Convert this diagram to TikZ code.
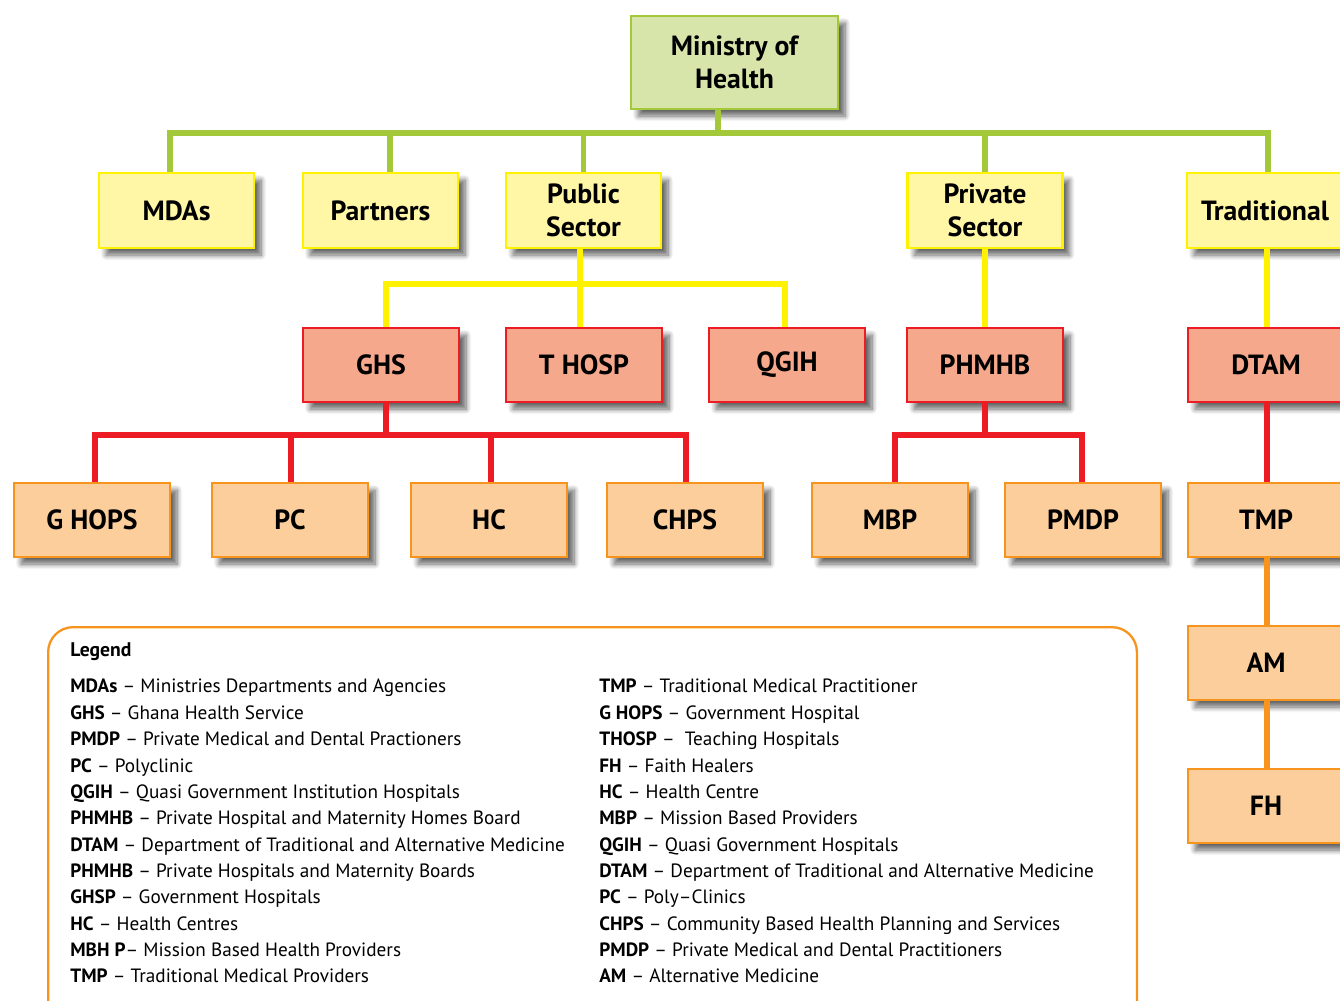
\documentclass[tikz,border=0pt]{standalone}
\usepackage{fontspec}
\setmainfont{PT Sans}
\usetikzlibrary{shadows.blur}
\definecolor{gfill}{HTML}{D7E4AA}
\definecolor{gline}{HTML}{A3C93A}
\definecolor{yfill}{HTML}{FFF7A6}
\definecolor{yline}{HTML}{FFF200}
\definecolor{rfill}{HTML}{F5A88B}
\definecolor{rline}{HTML}{ED1C24}
\definecolor{ofill}{HTML}{FBCE9B}
\definecolor{oline}{HTML}{F7941D}
\tikzset{
  box/.style={draw, line width=1.6pt, inner sep=2pt, align=center,
    font=\fontsize{15.8}{18.5}\selectfont\bfseries,
    blur shadow={shadow xshift=4pt, shadow yshift=-4pt, shadow blur steps=8, shadow opacity=60, shadow blur radius=3pt}},
  gbox/.style={box, fill=gfill, draw=gline, minimum width=4.14cm, minimum height=1.86cm},
  ybox/.style={box, fill=yfill, draw=yline, minimum width=3.1cm, minimum height=1.5cm},
  rbox/.style={box, fill=rfill, draw=rline, minimum width=3.12cm, minimum height=1.48cm},
  obox/.style={box, fill=ofill, draw=oline, minimum width=3.12cm, minimum height=1.48cm},
  conn/.style={line width=2.9pt},
  gconn/.style={conn, draw=gline},
  yconn/.style={conn, draw=yline},
  rconn/.style={conn, draw=rline},
  oconn/.style={conn, draw=oline},
  leg/.style={anchor=base west, inner sep=0pt, font=\fontsize{10.95}{13}\selectfont},
}
\begin{document}
\begin{tikzpicture}[x=0.02cm,y=-0.02cm]
\useasboundingbox (0,0) rectangle (1340,1001);
\clip (0,0) rectangle (1340,1001);
% legend frame
\node[draw=oline, line width=1.3pt, rounded corners=0.5cm, minimum width=21.78cm, minimum height=8cm, anchor=north west] (legendbox) at (47,626) {};
% row 1
\node[gbox] (moh) at (734.5,62.5) {Ministry of\\Health};
% row 2
\node[ybox] (mdas) at (176.5,210.5) {MDAs};
\node[ybox] (partners) at (380.5,210.5) {Partners};
\node[ybox] (public) at (583.5,210.5) {Public\\Sector};
\node[ybox] (private) at (985,210.5) {Private\\Sector};
\node[ybox, minimum width=3.12cm] (trad) at (1265,210.5) {Traditional};
% row 3
\node[rbox] (ghs) at (381,365) {GHS};
\node[rbox] (thosp) at (584,365) {T HOSP};
\node[rbox] (qgih) at (787,365) {QGIH};
\node[rbox] (phmhb) at (985,365) {PHMHB};
\node[rbox] (dtam) at (1266,365) {DTAM};
% row 4
\node[obox] (ghops) at (92,520) {G HOPS};
\node[obox] (pc) at (290,520) {PC};
\node[obox] (hc) at (489,520) {HC};
\node[obox] (chps) at (685,520) {CHPS};
\node[obox] (mbp) at (890,520) {MBP};
\node[obox] (pmdp) at (1083,520) {PMDP};
\node[obox] (tmp) at (1266,520) {TMP};
% column
\node[obox] (am) at (1266,663) {AM};
\node[obox] (fh) at (1266,806) {FH};
% junctions
\coordinate (gj) at (718,133);
\coordinate (yj) at (580,284);
\coordinate (rj) at (386,435);
\coordinate (pj) at (985,435);
% green connectors
\draw[gconn] (moh.south -| gj) -- (gj);
\draw[gconn] (gj) -| (mdas.north -| 170,0);
\draw[gconn] (gj) -| (partners.north -| 390,0);
\draw[gconn] (gj) -| (public.north);
\draw[gconn] (gj) -| (private.north);
\draw[gconn] (gj) -| (trad.north -| 1268,0);
% yellow connectors
\draw[yconn] (public.south -| yj) -- (yj);
\draw[yconn] (yj) -| (ghs.north -| 386,0);
\draw[yconn] (yj) -| (thosp.north -| yj);
\draw[yconn] (yj) -| (qgih.north -| 785,0);
\draw[yconn] (private.south) -- (phmhb.north -| private.south);
\draw[yconn] (trad.south -| 1267,0) -- (dtam.north -| 1267,0);
% red connectors
\draw[rconn] (ghs.south -| rj) -- (rj);
\draw[rconn] (rj) -| (ghops.north -| 95,0);
\draw[rconn] (rj) -| (pc.north -| 291,0);
\draw[rconn] (rj) -| (hc.north -| 491,0);
\draw[rconn] (rj) -| (chps.north -| 686,0);
\draw[rconn] (phmhb.south -| pj) -- (pj);
\draw[rconn] (pj) -| (mbp.north -| 895,0);
\draw[rconn] (pj) -| (pmdp.north -| 1082,0);
\draw[rconn] (dtam.south -| 1267,0) -- (tmp.north -| 1267,0);
% orange connectors
\draw[oconn] (tmp.south -| 1267,0) -- (am.north -| 1267,0);
\draw[oconn] (am.south -| 1267,0) -- (fh.north -| 1267,0);
% legend text
\node[leg, font=\fontsize{11.2}{13}\selectfont\bfseries] (legtitle) at (70,656) {Legend};
\node[leg] (l1) at (70,692) {\textbf{MDAs} – Ministries Departments and Agencies};
\node[leg] (l2) at (70,719) {\textbf{GHS} – Ghana Health Service};
\node[leg] (l3) at (70,745) {\textbf{PMDP} – Private Medical and Dental Practioners};
\node[leg] (l4) at (70,772) {\textbf{PC} – Polyclinic};
\node[leg] (l5) at (70,798) {\textbf{QGIH} – Quasi Government Institution Hospitals};
\node[leg] (l6) at (70,824) {\textbf{PHMHB} – Private Hospital and Maternity Homes Board};
\node[leg] (l7) at (70,851) {\textbf{DTAM} – Department of Traditional and Alternative Medicine};
\node[leg] (l8) at (70,877) {\textbf{PHMHB} – Private Hospitals and Maternity Boards};
\node[leg] (l9) at (70,903) {\textbf{GHSP} – Government Hospitals};
\node[leg] (l10) at (70,930) {\textbf{HC} – Health Centres};
\node[leg] (l11) at (70,956) {\textbf{MBH P}– Mission Based Health Providers};
\node[leg] (l12) at (70,982) {\textbf{TMP} – Traditional Medical Providers};
\node[leg] (r1) at (599,692) {\textbf{TMP} – Traditional Medical Practitioner};
\node[leg] (r2) at (599,719) {\textbf{G HOPS} – Government Hospital};
\node[leg] (r3) at (599,745) {\textbf{THOSP} –\ \ Teaching Hospitals};
\node[leg] (r4) at (599,772) {\textbf{FH} – Faith Healers};
\node[leg] (r5) at (599,798) {\textbf{HC} – Health Centre};
\node[leg] (r6) at (599,824) {\textbf{MBP} – Mission Based Providers};
\node[leg] (r7) at (599,851) {\textbf{QGIH} – Quasi Government Hospitals};
\node[leg] (r8) at (599,877) {\textbf{DTAM} – Department of Traditional and Alternative Medicine};
\node[leg] (r9) at (599,903) {\textbf{PC} – Poly–Clinics};
\node[leg] (r10) at (599,930) {\textbf{CHPS} – Community Based Health Planning and Services};
\node[leg] (r11) at (599,956) {\textbf{PMDP} – Private Medical and Dental Practitioners};
\node[leg] (r12) at (599,982) {\textbf{AM} – Alternative Medicine};
\end{tikzpicture}
\end{document}
